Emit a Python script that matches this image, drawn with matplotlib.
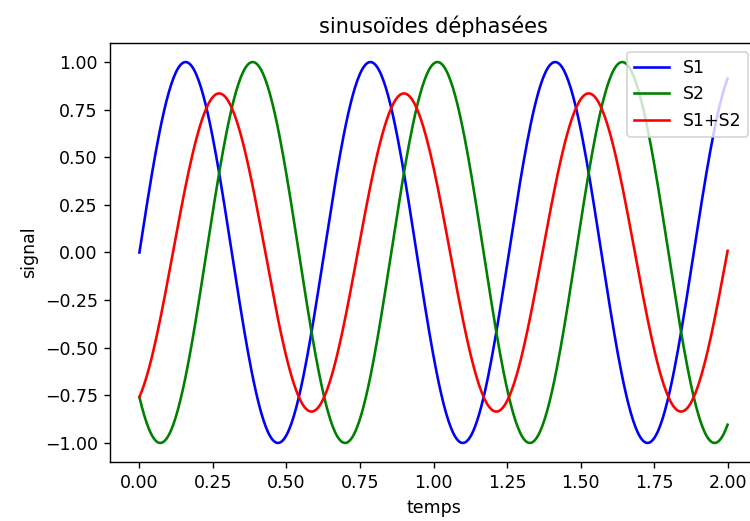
import numpy as np
import matplotlib
matplotlib.use('Agg')
import matplotlib.pyplot as plt

# parametres
t_debut = 0.0
t_fin = 2.0
n_points = 500
omega = 10.0      # rad/s
phase = -2.28     # dephasage de S2 (rad)

labels = ['S1', 'S2', 'S1+S2']
couleurs = ['b', 'g', 'r']

t = np.linspace(t_debut, t_fin, n_points)
s1 = np.sin(omega * t)
s2 = np.sin(omega * t + phase)

fig = plt.figure(figsize=(6, 4.168), dpi=125)
ax = fig.add_axes([110 / 750, 1 - 462 / 521, 647 / 750, 419 / 521])

ax.plot(t, s1, couleurs[0], label=labels[0])
ax.plot(t, s2, couleurs[1], label=labels[1])
ax.plot(t, s1 + s2, couleurs[2], label=labels[2])

ax.set_title('sinusoïdes déphasées')
ax.set_xlabel('temps')
ax.set_ylabel('signal')
ax.legend(loc='upper right')

fig.savefig('out.png', dpi=125)
